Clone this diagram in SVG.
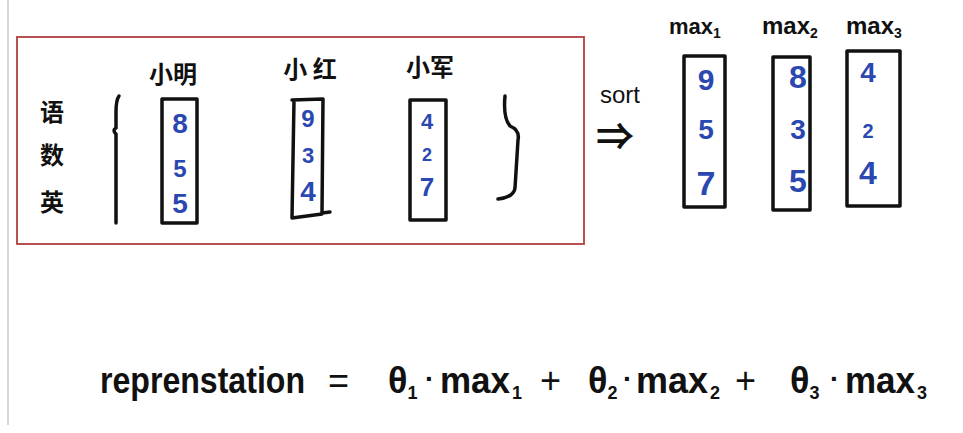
<svg xmlns="http://www.w3.org/2000/svg" width="963" height="433" viewBox="0 0 963 433">
<style>
.hand{font-family:"Liberation Sans","Noto Sans CJK SC",sans-serif;fill:#111}
.cjk{font-family:"Noto Sans CJK SC",sans-serif;fill:#111;font-size:24px;text-anchor:middle;font-weight:bold}
.num{font-family:"Liberation Sans",sans-serif;fill:#2a48b0;text-anchor:middle;font-weight:bold}
.box{fill:none;stroke:#111;stroke-width:3.5;stroke-linejoin:round}
.stroke{fill:none;stroke:#111;stroke-width:3.5;stroke-linecap:round;stroke-linejoin:round}
.f{font-family:"Liberation Sans",sans-serif;fill:#111;font-weight:bold}
</style>
<rect width="963" height="433" fill="#ffffff"/>
<line x1="8" y1="0" x2="8" y2="425" stroke="#c8c8c8" stroke-width="1.5"/>
<g id="frame"><rect x="17" y="37" width="567" height="207" fill="none" stroke="#b04040" stroke-width="1.8"/></g>
<g id="subjects">
<text class="cjk" x="52" y="121" font-size="30">语</text>
<text class="cjk" x="52" y="164" font-size="30">数</text>
<text class="cjk" x="52" y="211" font-size="30">英</text>
</g>
<g id="braces">
<path class="stroke" d="M119,96 Q116,100 116,112 L116,128 Q112,130 116,134 L116,223"/>
<path class="stroke" d="M505,96 Q503,118 510,126 Q520,130 518,140 L515,188 Q514,197 498,199"/>
</g>
<g id="xiaoming">
<text class="cjk" x="173" y="83">小明</text>
<rect class="box" x="162" y="99" width="35" height="124"/>
<text class="num" x="180" y="133" font-size="28">8</text>
<text class="num" x="180" y="177" font-size="24">5</text>
<text class="num" x="180" y="213" font-size="28">5</text>
</g>
<g id="xiaohong">
<text class="cjk" x="310" y="78" font-size="26">小 红</text>
<path class="stroke" d="M292,100 L323,99 L322,213 L330,212 M294,100 L292,218 L322,214"/>
<text class="num" x="308" y="127" font-size="24">9</text>
<text class="num" x="308" y="163" font-size="22">3</text>
<text class="num" x="308" y="201" font-size="28">4</text>
</g>
<g id="xiaojun">
<text class="cjk" x="430" y="76">小军</text>
<rect class="box" x="410" y="100" width="36" height="120"/>
<text class="num" x="427" y="129" font-size="22">4</text>
<text class="num" x="427" y="161" font-size="18">2</text>
<text class="num" x="427" y="196" font-size="26">7</text>
</g>
<g id="sort">
<text class="hand" x="600" y="103" font-size="24">sort</text>
<text class="hand" x="596" y="150" font-size="38" font-weight="bold">⇒</text>
</g>
<g id="max1">
<text class="f" x="669" y="34" font-size="22">max<tspan font-size="14" dy="4">1</tspan></text>
<rect class="box" x="684" y="56" width="41" height="151"/>
<text class="num" x="706" y="90" font-size="30">9</text>
<text class="num" x="706" y="139" font-size="28">5</text>
<text class="num" x="706" y="195" font-size="34">7</text>
</g>
<g id="max2">
<text class="f" x="762" y="34" font-size="24">max<tspan font-size="14" dy="4">2</tspan></text>
<rect class="box" x="773" y="57" width="37" height="153"/>
<text class="num" x="798" y="88" font-size="32">8</text>
<text class="num" x="798" y="139" font-size="28">3</text>
<text class="num" x="798" y="192" font-size="32">5</text>
</g>
<g id="max3">
<text class="f" x="846" y="34" font-size="24">max<tspan font-size="14" dy="4">3</tspan></text>
<rect class="box" x="847" y="51" width="53" height="155"/>
<text class="num" x="868" y="82" font-size="28">4</text>
<text class="num" x="868" y="138" font-size="20">2</text>
<text class="num" x="868" y="184" font-size="32">4</text>
</g>
<g id="formula">
<text class="f" x="100" y="393" font-size="36" textLength="205" lengthAdjust="spacingAndGlyphs">reprenstation</text>
<text class="hand" x="328" y="393" font-size="36">=</text>
<text class="f" x="388" y="393" font-size="36">θ<tspan font-size="18" dy="6">1</tspan></text>
<text class="hand" x="425" y="388" font-size="28" font-weight="bold">·</text>
<text class="f" x="440" y="393" font-size="36" textLength="70" lengthAdjust="spacingAndGlyphs">max</text>
<text class="f" x="512" y="399" font-size="18">1</text>
<text class="hand" x="540" y="393" font-size="36">+</text>
<text class="f" x="588" y="393" font-size="36">θ<tspan font-size="18" dy="6">2</tspan></text>
<text class="hand" x="623" y="388" font-size="28" font-weight="bold">·</text>
<text class="f" x="636" y="393" font-size="36" textLength="72" lengthAdjust="spacingAndGlyphs">max</text>
<text class="f" x="710" y="399" font-size="18">2</text>
<text class="hand" x="735" y="393" font-size="36">+</text>
<text class="f" x="790" y="393" font-size="36">θ<tspan font-size="18" dy="6">3</tspan></text>
<text class="hand" x="830" y="388" font-size="28" font-weight="bold">·</text>
<text class="f" x="845" y="393" font-size="36" textLength="70" lengthAdjust="spacingAndGlyphs">max</text>
<text class="f" x="917" y="399" font-size="18">3</text>
</g>
</svg>
